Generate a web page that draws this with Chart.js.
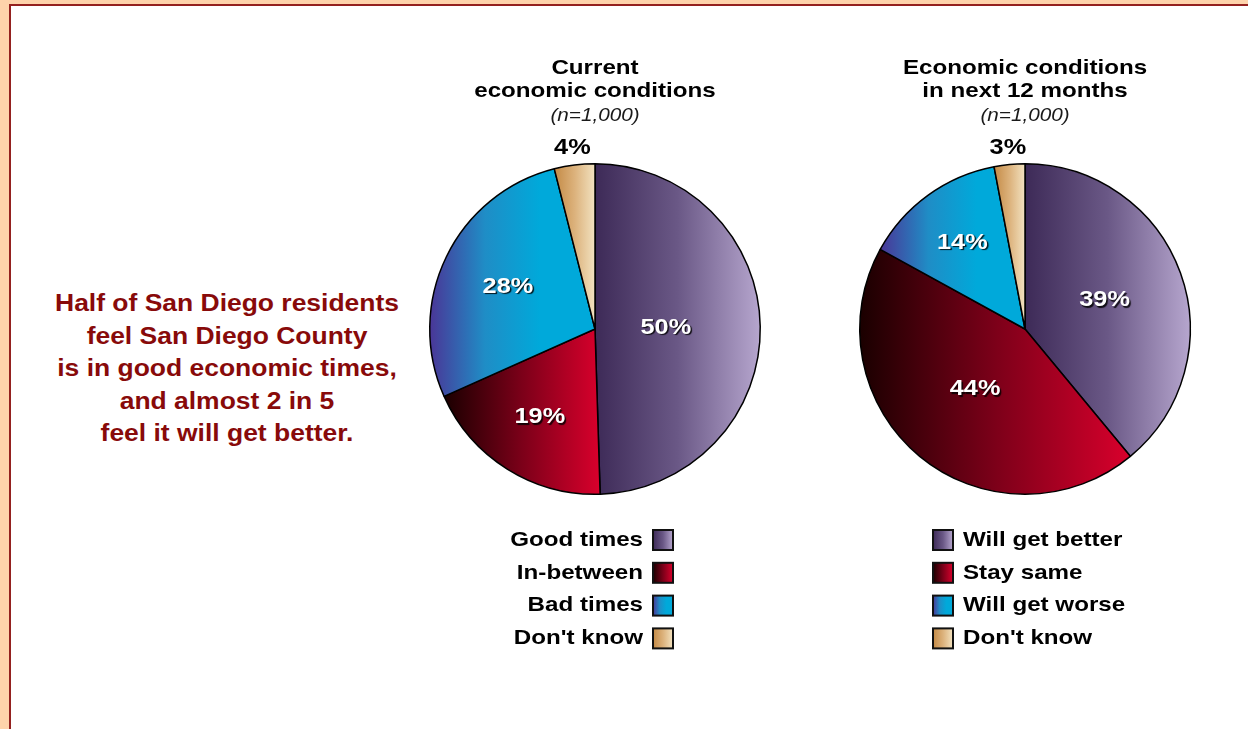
<!DOCTYPE html>
<html>
<head>
<meta charset="utf-8">
<title>San Diego economic outlook</title>
<script src="https://cdn.jsdelivr.net/npm/chart.js@4.4.1/dist/chart.umd.min.js"></script>
<style>
  html, body {
    margin: 0;
    width: 1248px;
    height: 729px;
    overflow: hidden;
    background: #fed3ab;
    font-family: 'Liberation Sans', Arial, Helvetica, sans-serif;
  }
  #panel {
    position: absolute;
    left: 9px;
    top: 4px;
    width: 1260px;
    height: 760px;
    background: #fff;
    border-top: 2px solid #94211f;
    border-left: 2px solid #94211f;
  }
  .box {
    position: absolute;
    top: 0;
    width: 390px;
    height: 729px;
  }
  #note {
    position: absolute;
    left: 0;
    top: 287px;
    width: 454px;
    text-align: center;
    color: #880a0a;
    font-weight: bold;
    font-size: 23px;
    line-height: 32.6px;
    transform: scaleX(1.15);
  }
</style>
</head>
<body>
<div id="panel"></div>
<div id="note">Half of San Diego residents<br>feel San Diego County<br>is in good economic times,<br>and almost 2 in 5<br>feel it will get better.</div>
<div class="box" style="left:400px"><canvas id="current" width="390" height="729"></canvas></div>
<div class="box" style="left:830px"><canvas id="outlook" width="390" height="729"></canvas></div>

<script>
const currentLabels = ['Good times', 'In-between', 'Bad times', "Don't know"];
const currentValues = [50, 19, 28, 4];
const currentTitle = ['Current', 'economic conditions'];

const outlookLabels = ['Will get better', 'Stay same', 'Will get worse', "Don't know"];
const outlookValues = [39, 44, 14, 3];
const outlookTitle = ['Economic conditions', 'in next 12 months'];

const sampleNote = '(n=1,000)';

// left-to-right shading for each slice (same order in both pies)
const sliceStops = [
  ['#3d2a57', '#6a5886', '#b6a6ce'],
  ['#1a0000', '#7c0019', '#d9002c'],
  ['#4a3697', '#1f8dc6', '#00a9da', '#00a9da'],
  ['#c48a45', '#dcb27c', '#f2e2c0']
];

const FONT = "'Liberation Sans', Arial, Helvetica, sans-serif";
const SX = 1.15; // the lettering is set a little wide

function stretchText(ctx, text, x, y, font, color, align) {
  ctx.save();
  ctx.font = font;
  ctx.fillStyle = color;
  ctx.textAlign = align;
  ctx.textBaseline = 'middle';
  ctx.translate(x, y);
  ctx.scale(SX, 1);
  ctx.fillText(text, 0, 0);
  ctx.restore();
}

function shade(ctx, x0, x1, stops) {
  const g = ctx.createLinearGradient(x0, 0, x1, 0);
  stops.forEach((c, i) => g.addColorStop(i / (stops.length - 1), c));
  return g;
}

// horizontal extent of a pie slice
function arcSpan(arc) {
  const r = arc.outerRadius;
  const xs = [arc.x, arc.x + r * Math.cos(arc.startAngle), arc.x + r * Math.cos(arc.endAngle)];
  for (let k = -2; k <= 2; k++) {
    [0, Math.PI].forEach(a => {
      const t = a + k * 2 * Math.PI;
      if (t > arc.startAngle && t < arc.endAngle) xs.push(arc.x + r * Math.cos(t));
    });
  }
  return [Math.min(...xs), Math.max(...xs)];
}

const pieDecor = {
  id: 'pieDecor',
  beforeDatasetsDraw(chart) {
    chart.getDatasetMeta(0).data.forEach((arc, i) => {
      const [a, b] = arcSpan(arc);
      arc.options.backgroundColor = shade(chart.ctx, a, b, sliceStops[i]);
    });
  },
  afterDatasetsDraw(chart, args, opts) {
    const ctx = chart.ctx;
    const values = chart.data.datasets[0].data;
    const area = chart.chartArea;
    const cx = (area.left + area.right) / 2;

    // percentages: big slices at the sector centroid in white, thin ones above the rim
    chart.getDatasetMeta(0).data.forEach((arc, i) => {
      const mid = (arc.startAngle + arc.endAngle) / 2;
      const half = (arc.endAngle - arc.startAngle) / 2;
      const inside = values[i] >= 10;
      const d = inside
        ? arc.outerRadius * 2 * Math.sin(half) / (3 * half)
        : arc.outerRadius + 17;
      const x = arc.x + Math.cos(mid) * d;
      const y = arc.y + Math.sin(mid) * d;
      ctx.save();
      if (inside) {
        ctx.shadowColor = 'rgba(0,0,0,0.85)';
        ctx.shadowOffsetX = 1.5;
        ctx.shadowOffsetY = 1.5;
        ctx.shadowBlur = 1;
      }
      stretchText(ctx, values[i] + '%', x, y, 'bold 22px ' + FONT, inside ? '#fff' : '#000', 'center');
      ctx.restore();
    });

    // heading
    opts.title.forEach((line, i) => {
      stretchText(ctx, line, cx, area.top - 95 + i * 23, 'bold 21px ' + FONT, '#000', 'center');
    });
    stretchText(ctx, sampleNote, cx, area.top - 47, 'italic 18px ' + FONT, '#1a1a1a', 'center');

    // key
    chart.data.labels.forEach((label, i) => {
      const y = area.bottom + 45 + i * 32.8;
      const bx = opts.keyOnLeft ? cx - 92 : cx + 58;
      ctx.save();
      ctx.fillStyle = shade(ctx, bx, bx + 20, sliceStops[i]);
      ctx.fillRect(bx, y - 10, 20, 20);
      ctx.strokeStyle = '#111';
      ctx.lineWidth = 2;
      ctx.strokeRect(bx, y - 10, 20, 20);
      ctx.restore();
      if (opts.keyOnLeft) {
        stretchText(ctx, label, cx - 62, y, 'bold 21px ' + FONT, '#000', 'left');
      } else {
        stretchText(ctx, label, cx + 48, y, 'bold 21px ' + FONT, '#000', 'right');
      }
    });
  }
};

function makePie(id, labels, values, title, keyOnLeft) {
  return new Chart(document.getElementById(id), {
    type: 'pie',
    data: {
      labels: labels,
      datasets: [{
        data: values,
        backgroundColor: sliceStops.map(s => s[1]),
        borderColor: '#000',
        borderWidth: 1.5,
        hoverOffset: 0
      }]
    },
    options: {
      responsive: false,
      animation: false,
      layout: { padding: { top: 163, bottom: 234, left: 29, right: 29 } },
      plugins: {
        legend: { display: false },
        tooltip: { enabled: false },
        pieDecor: { title: title, keyOnLeft: keyOnLeft }
      }
    },
    plugins: [pieDecor]
  });
}

makePie('current', currentLabels, currentValues, currentTitle, false);
makePie('outlook', outlookLabels, outlookValues, outlookTitle, true);
</script>
</body>
</html>
